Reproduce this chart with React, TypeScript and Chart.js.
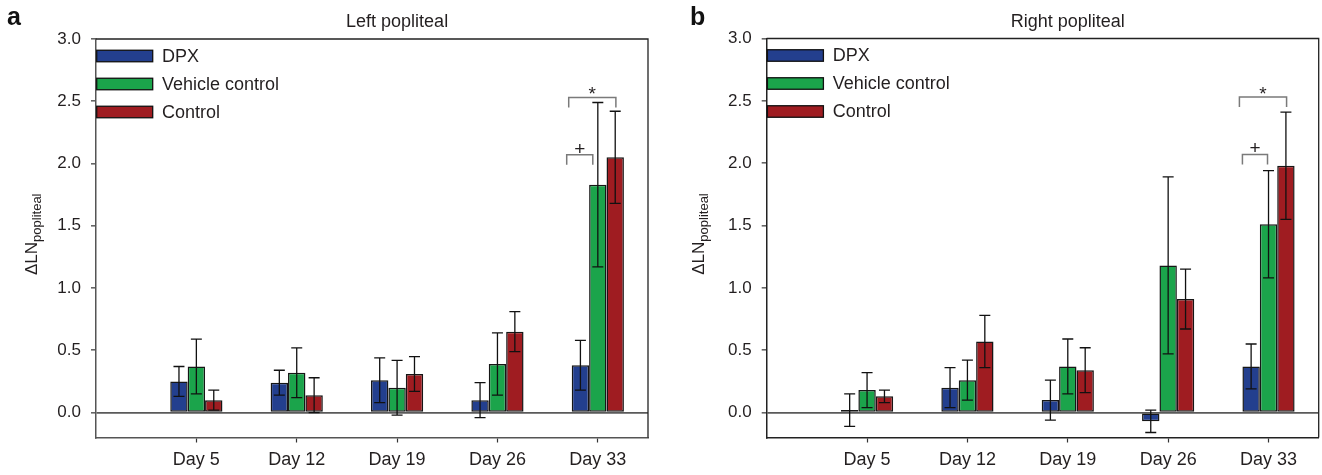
import React, { useEffect, useRef } from 'react';
import { Chart, registerables } from 'chart.js';

Chart.register(...registerables);

// ---------- data ----------
const categories = ['Day 5', 'Day 12', 'Day 19', 'Day 26', 'Day 33'];
const seriesNames = ['DPX', 'Vehicle control', 'Control'];
const seriesColors = ['#233f8e', '#1ba44b', '#9f1c21'];
const yTickValues = [0, 0.5, 1.0, 1.5, 2.0, 2.5, 3.0];

const leftDPX = [0.25, 0.24, 0.26, 0.1, 0.38];
const leftDPXErr = [0.12, 0.1, 0.18, 0.14, 0.2];
const leftVehicle = [0.37, 0.32, 0.2, 0.39, 1.83];
const leftVehicleErr = [0.22, 0.2, 0.22, 0.25, 0.66];
const leftControl = [0.1, 0.14, 0.31, 0.65, 2.05];
const leftControlErr = [0.08, 0.14, 0.14, 0.16, 0.37];

const rightDPX = [0.02, 0.2, 0.1, -0.07, 0.37];
const rightDPXErr = [0.13, 0.16, 0.16, 0.09, 0.18];
const rightVehicle = [0.18, 0.26, 0.37, 1.18, 1.51];
const rightVehicleErr = [0.14, 0.16, 0.22, 0.71, 0.43];
const rightControl = [0.13, 0.57, 0.34, 0.91, 1.98];
const rightControlErr = [0.05, 0.21, 0.18, 0.24, 0.43];

// significance brackets: offsets in category units around a category
const leftBrackets = [
  { category: 'Day 33', from: -0.31, to: -0.05, top: 2.07, foot: 1.99, label: '+' },
  { category: 'Day 33', from: -0.29, to: 0.18, top: 2.53, foot: 2.45, label: '*' },
];
const rightBrackets = [
  { category: 'Day 33', from: -0.26, to: -0.01, top: 2.07, foot: 1.99, label: '+' },
  { category: 'Day 33', from: -0.29, to: 0.18, top: 2.53, foot: 2.45, label: '*' },
];

// ---------- style ----------
const FONT = '"Liberation Sans", Arial, Helvetica, sans-serif';
const TEXT = '#231f20';
const W = 661;
const H = 475;

type Bracket = { category: string; from: number; to: number; top: number; foot: number; label: string };
type PanelDef = {
  letter: string;
  letterX: number;
  title: string;
  values: number[][];
  errors: number[][];
  brackets: Bracket[];
  yWidth: number;
  xHeight: number;
  padTop: number;
  padRight: number;
  yTitleX: number;
  axisColor: string;
};

const panels: PanelDef[] = [
  {
    letter: 'a',
    letterX: 7,
    title: 'Left popliteal',
    values: [leftDPX, leftVehicle, leftControl],
    errors: [leftDPXErr, leftVehicleErr, leftControlErr],
    brackets: leftBrackets,
    yWidth: 96,
    xHeight: 37.5,
    padTop: 39,
    padRight: 13,
    yTitleX: 37,
    axisColor: '#555',
  },
  {
    letter: 'b',
    letterX: 29,
    title: 'Right popliteal',
    values: [rightDPX, rightVehicle, rightControl],
    errors: [rightDPXErr, rightVehicleErr, rightControlErr],
    brackets: rightBrackets,
    yWidth: 105.7,
    xHeight: 37.5,
    padTop: 38.5,
    padRight: 3.3,
    yTitleX: 43,
    axisColor: '#222',
  },
];

function makeConfig(p: PanelDef): any {
  const datasets = seriesNames.map((name, i) => ({
    label: name,
    data: p.values[i].map((v, j) => ({ x: j + 1, y: v })),
    errors: p.errors[i],
    backgroundColor: seriesColors[i],
    borderColor: '#161616',
    borderWidth: 1.5,
    borderSkipped: false,
    categoryPercentage: 0.52,
    barPercentage: 1.0,
  }));

  const decor = {
    id: 'decor',
    afterDatasetsDraw(chart: any) {
      const ctx = chart.ctx;
      const xs = chart.scales.x;
      const ys = chart.scales.y;
      const area = chart.chartArea;

      // error bars
      chart.data.datasets.forEach((ds: any, i: number) => {
        const meta = chart.getDatasetMeta(i);
        meta.data.forEach((el: any, j: number) => {
          const v = ds.data[j].y;
          const e = ds.errors[j];
          const t = ys.getPixelForValue(v + e);
          const b = ys.getPixelForValue(v - e);
          ctx.save();
          ctx.strokeStyle = '#111';
          ctx.lineWidth = 1.3;
          ctx.beginPath();
          ctx.moveTo(el.x, t);
          ctx.lineTo(el.x, b);
          ctx.moveTo(el.x - 5.5, t);
          ctx.lineTo(el.x + 5.5, t);
          ctx.moveTo(el.x - 5.5, b);
          ctx.lineTo(el.x + 5.5, b);
          ctx.stroke();
          ctx.restore();
        });
      });

      // frame top and right
      ctx.save();
      ctx.strokeStyle = '#222';
      ctx.lineWidth = 1.3;
      ctx.beginPath();
      ctx.moveTo(area.left, area.top);
      ctx.lineTo(area.right, area.top);
      ctx.lineTo(area.right, area.bottom);
      ctx.stroke();
      ctx.restore();

      // brackets
      p.brackets.forEach((br) => {
        const c = categories.indexOf(br.category) + 1;
        const x1 = xs.getPixelForValue(c + br.from);
        const x2 = xs.getPixelForValue(c + br.to);
        const yt = ys.getPixelForValue(br.top);
        const yf = ys.getPixelForValue(br.foot);
        ctx.save();
        ctx.strokeStyle = '#7a7a7a';
        ctx.lineWidth = 1.5;
        ctx.beginPath();
        ctx.moveTo(x1, yf);
        ctx.lineTo(x1, yt);
        ctx.lineTo(x2, yt);
        ctx.lineTo(x2, yf);
        ctx.stroke();
        ctx.font = `19px ${FONT}`;
        ctx.fillStyle = TEXT;
        ctx.textAlign = 'center';
        ctx.textBaseline = 'alphabetic';
        const m = ctx.measureText(br.label);
        const target = yt - 7;
        const base = target - (m.actualBoundingBoxDescent - m.actualBoundingBoxAscent) / 2;
        ctx.fillText(br.label, (x1 + x2) / 2, base);
        ctx.restore();
      });

      // legend
      const rowOffsets = [17, 45, 73];
      seriesNames.forEach((name, i) => {
        const cy = area.top + rowOffsets[i];
        ctx.save();
        ctx.fillStyle = seriesColors[i];
        ctx.fillRect(area.left + 0.7, cy - 5.75, 56, 11.5);
        ctx.strokeStyle = '#111';
        ctx.lineWidth = 1.3;
        ctx.strokeRect(area.left + 0.7, cy - 5.75, 56, 11.5);
        ctx.font = `18px ${FONT}`;
        ctx.fillStyle = TEXT;
        ctx.textAlign = 'left';
        ctx.textBaseline = 'middle';
        ctx.fillText(name, area.left + 66, cy + 1);
        ctx.restore();
      });

      // title
      ctx.save();
      ctx.font = `18px ${FONT}`;
      ctx.fillStyle = TEXT;
      ctx.textAlign = 'center';
      ctx.textBaseline = 'alphabetic';
      const tx = (xs.getPixelForValue(1) + xs.getPixelForValue(categories.length)) / 2;
      ctx.fillText(p.title, tx, 26.5);
      ctx.restore();

      // panel letter
      ctx.save();
      ctx.font = `bold 25px ${FONT}`;
      ctx.fillStyle = '#111';
      ctx.textAlign = 'left';
      ctx.textBaseline = 'alphabetic';
      ctx.fillText(p.letter, p.letterX, 25);
      ctx.restore();

      // y title with subscript
      ctx.save();
      const main = '\u0394LN';
      const sub = 'popliteal';
      ctx.font = `17px ${FONT}`;
      const wMain = ctx.measureText(main).width;
      ctx.font = `13px ${FONT}`;
      const wSub = ctx.measureText(sub).width;
      const total = wMain + wSub;
      const cy = (area.top + area.bottom) / 2 - 4;
      ctx.translate(p.yTitleX, cy);
      ctx.rotate(-Math.PI / 2);
      ctx.fillStyle = TEXT;
      ctx.textAlign = 'left';
      ctx.textBaseline = 'alphabetic';
      ctx.font = `17px ${FONT}`;
      ctx.fillText(main, -total / 2, 0);
      ctx.font = `13px ${FONT}`;
      ctx.fillText(sub, -total / 2 + wMain, 4.3);
      ctx.restore();
    },
  };

  return {
    type: 'bar',
    data: { datasets },
    plugins: [decor],
    options: {
      responsive: false,
      animation: false,
      events: [],
      layout: { padding: { left: 0, right: p.padRight, top: p.padTop, bottom: 0 } },
      plugins: {
        legend: { display: false },
        tooltip: { enabled: false },
        title: { display: false },
      },
      scales: {
        x: {
          type: 'linear',
          min: 0,
          max: categories.length + 0.5,
          offset: false,
          afterBuildTicks: (s: any) => {
            s.ticks = categories.map((_, i) => ({ value: i + 1 }));
          },
          afterFit: (s: any) => {
            s.height = p.xHeight;
          },
          ticks: {
            callback: (v: any) => categories[Math.round(Number(v)) - 1] ?? '',
            font: { family: FONT, size: 18 },
            color: TEXT,
            padding: 7,
            maxRotation: 0,
            autoSkip: false,
          },
          grid: {
            drawOnChartArea: false,
            offset: false,
            tickLength: 5,
            tickColor: '#333',
            tickWidth: 1.2,
          },
          border: { display: true, color: p.axisColor, width: 1.5 },
        },
        y: {
          type: 'linear',
          min: -0.2,
          max: 3.0,
          afterBuildTicks: (s: any) => {
            s.ticks = yTickValues.map((v) => ({ value: v }));
          },
          afterFit: (s: any) => {
            s.width = p.yWidth;
          },
          ticks: {
            callback: (v: any) => Number(v).toFixed(1),
            font: { family: FONT, size: 17 },
            color: TEXT,
            padding: 10,
          },
          grid: {
            drawOnChartArea: true,
            color: (c: any) => (c.tick && c.tick.value === 0 ? '#5a5a5a' : 'rgba(0,0,0,0)'),
            lineWidth: 1.7,
            tickLength: 5,
            tickColor: '#333',
            tickWidth: 1.2,
          },
          border: { display: true, color: p.axisColor, width: 1.5 },
        },
      },
    },
  };
}

function Panel({ panel }: { panel: PanelDef }) {
  const ref = useRef<HTMLCanvasElement>(null);
  useEffect(() => {
    const chart = new Chart(ref.current as HTMLCanvasElement, makeConfig(panel));
    return () => chart.destroy();
  }, [panel]);
  return <canvas ref={ref} width={W} height={H} style={{ display: 'block', width: W, height: H }} />;
}

export default function App() {
  return (
    <div
      style={{
        position: 'absolute',
        left: 0,
        top: 0,
        width: W * 2,
        height: H,
        display: 'flex',
        background: '#fff',
      }}
    >
      {panels.map((p) => (
        <Panel key={p.letter} panel={p} />
      ))}
    </div>
  );
}
